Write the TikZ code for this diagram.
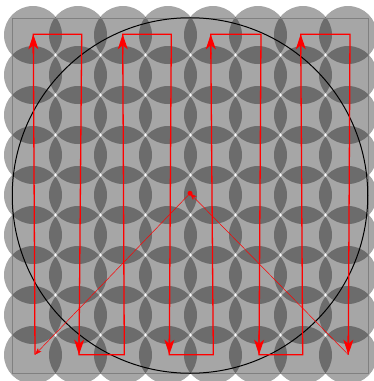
\documentclass[tikz,border=0pt]{standalone}
\usetikzlibrary{arrows.meta,calc}
\begin{document}
\begin{tikzpicture}[x=1pt,y=-1pt,
  disc/.style={fill=black,fill opacity=0.35,draw=none},
  frame/.style={draw=black!50,line width=0.7pt},
  bigcircle/.style={draw=black,line width=1pt},
  route/.style={draw=red,line width=1.3pt,line join=miter},
  tipline/.style={draw=red,line width=1.3pt,-{Stealth[length=15pt,width=10pt,inset=4pt]}},
  thinline/.style={draw=red,line width=0.5pt},
  thintip/.style={-{Stealth[length=7pt,width=5pt,inset=2pt]}}]
\useasboundingbox (0,0) rectangle (374,381);
% coverage discs
\foreach \i in {0,...,7}
  \foreach \j in {0,...,8}
    \fill[disc] (33+45*\i, 35+40*\j) circle[radius=29];
% frame and boundary circle
\draw[frame] (12,18) rectangle (368,373);
\draw[bigcircle] (190,195.5) circle[radius=177.75];
% route points
\coordinate (a1) at (35,354.7);
\coordinate (a2) at (33.3,34.3);
\coordinate (b1) at (81.7,34.3);
\coordinate (b2) at (79,354.7);
\coordinate (c1) at (124.3,354.7);
\coordinate (c2) at (122.7,34.3);
\coordinate (d1) at (171.3,34.3);
\coordinate (d2) at (169.3,354.7);
\coordinate (e1) at (213.3,354.7);
\coordinate (e2) at (210.7,34.3);
\coordinate (f1) at (261,34.3);
\coordinate (f2) at (259,354.7);
\coordinate (g1) at (302.7,354.7);
\coordinate (g2) at (300.7,34.3);
\coordinate (h1) at (350,34.3);
\coordinate (h2) at (348.3,354.7);
\coordinate (ctr) at (190,193.3);
% route
\draw[route] (a1) -- (a2) -- (b1) -- (b2) -- (c1) -- (c2) -- (d1) -- (d2)
  -- (e1) -- (e2) -- (f1) -- (f2) -- (g1) -- (g2) -- (h1) -- (h2);
\foreach \s/\t in {a1/a2,b1/b2,c1/c2,d1/d2,e1/e2,f1/f2,g1/g2,h1/h2}
  \draw[tipline] ($(\t)!20pt!(\s)$) -- (\t);
% return legs through the centre
\draw[thinline,thintip] (h2) -- (ctr);
\draw[thinline,thintip] (ctr) -- (a1);
\fill[red] (ctr) circle[radius=2.5];
\end{tikzpicture}
\end{document}
